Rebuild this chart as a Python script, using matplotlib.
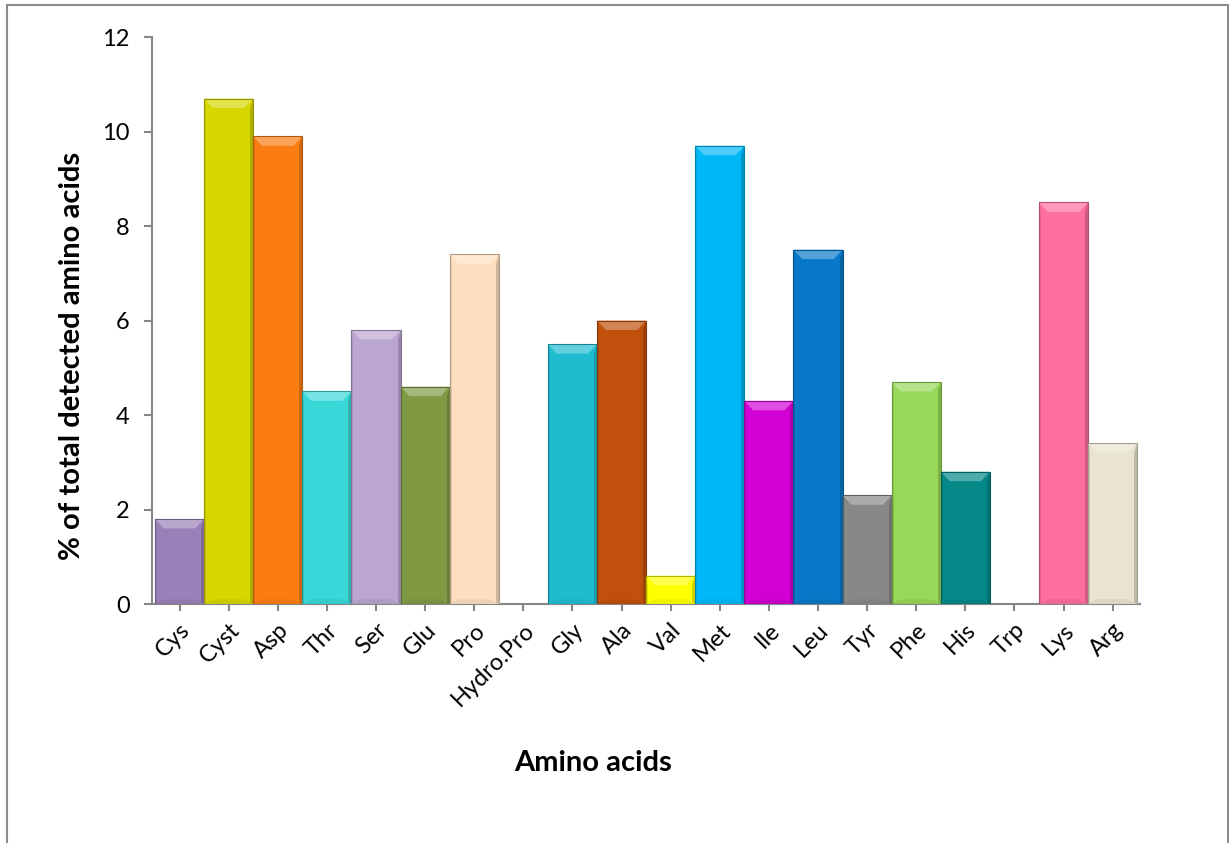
import matplotlib

matplotlib.use("Agg")
import matplotlib.pyplot as plt
import numpy as np
from matplotlib.colors import to_rgb
from matplotlib.patches import Polygon, Rectangle

plt.rcParams["font.family"] = ["Lato", "DejaVu Sans"]

amino_acids = ["Cys", "Cyst", "Asp", "Thr", "Ser", "Glu", "Pro", "Hydro.Pro", "Gly", "Ala",
               "Val", "Met", "Ile", "Leu", "Tyr", "Phe", "His", "Trp", "Lys", "Arg"]
percent = [1.8, 10.7, 9.9, 4.5, 5.8, 4.6, 7.4, 0.0, 5.5, 6.0,
           0.6, 9.7, 4.3, 7.5, 2.3, 4.7, 2.8, 0.0, 8.5, 3.4]
bar_colors = ["#9a80b8", "#d6d600", "#fb7d12", "#38d8d8", "#baa6d0", "#809a44", "#fddfc0", "#ffffff",
              "#1fbcd0", "#c0500c", "#ffff00", "#00b8f8", "#d200d2", "#0878c8", "#888888", "#98d858",
              "#048888", "#ffffff", "#ff6ea0", "#e8e4d0"]


def shade(color, f):
    r, g, b = to_rgb(color)
    if f >= 0:
        return (r + (1 - r) * f, g + (1 - g) * f, b + (1 - b) * f)
    return (r * (1 + f), g * (1 + f), b * (1 + f))


fig = plt.figure(figsize=(12.29, 8.43), dpi=100)
ax = fig.add_axes([0.1237, 0.2835, 0.804, 0.6725])

x = np.arange(len(amino_acids))
ax.bar(x, percent, width=1.0, color=bar_colors, linewidth=0, zorder=2)

# bevel look: light top cap, darker right side and base strip
bw, bh = 0.18, 0.2
for xi, v, c in zip(x, percent, bar_colors):
    if v <= 0:
        continue
    l, r = xi - 0.5, xi + 0.5
    h = min(bh, v / 2)
    ax.add_patch(Polygon([(l, v), (r, v), (r - bw, v - h), (l + bw, v - h)],
                         closed=True, facecolor=shade(c, 0.3), linewidth=0, zorder=3))
    ax.add_patch(Polygon([(r, v), (r, 0), (r - 0.06, 0), (r - 0.06, v - h)],
                         closed=True, facecolor=shade(c, -0.18), linewidth=0, zorder=3))
    ax.add_patch(Polygon([(l, v), (l, 0), (l + 0.04, 0), (l + 0.04, v - h)],
                         closed=True, facecolor=shade(c, -0.08), linewidth=0, zorder=3))
    ax.add_patch(Polygon([(l, 0), (r, 0), (r - bw, h * 0.5), (l + bw, h * 0.5)],
                         closed=True, facecolor=shade(c, -0.06), linewidth=0, zorder=3))
    ax.add_patch(Rectangle((l, 0), 1.0, v, fill=False, edgecolor=shade(c, -0.3),
                           linewidth=0.8, zorder=4))

ax.set_xlim(-0.56, len(amino_acids) - 0.44)
ax.set_ylim(0, 12)
ax.set_yticks(np.arange(0, 13, 2))
ax.set_xticks(x)
ax.set_xticklabels(amino_acids, rotation=45, ha="right", rotation_mode="anchor", fontsize=17)
ax.tick_params(axis="y", labelsize=17, length=6, width=1.5, color="#868686", pad=10)
ax.tick_params(axis="x", length=5, width=1.5, color="#868686", pad=6)

for side in ("top", "right"):
    ax.spines[side].set_visible(False)
for side in ("left", "bottom"):
    ax.spines[side].set_color("#868686")
    ax.spines[side].set_linewidth(1.5)

ax.set_ylabel("% of total detected amino acids", fontsize=21, fontweight="bold")
ax.set_xlabel("Amino acids", fontsize=21, fontweight="bold")
ax.yaxis.set_label_coords(-0.068, 0.437)
ax.xaxis.set_label_coords(0.446, -0.258)

# chart area frame
fig.add_artist(Rectangle((7 / 1229, -0.01), 1221 / 1229, 1 - 5 / 843 + 0.01, transform=fig.transFigure,
                         fill=False, edgecolor="#8c8c8c", linewidth=1.5))

fig.savefig("out.png", dpi=100)
